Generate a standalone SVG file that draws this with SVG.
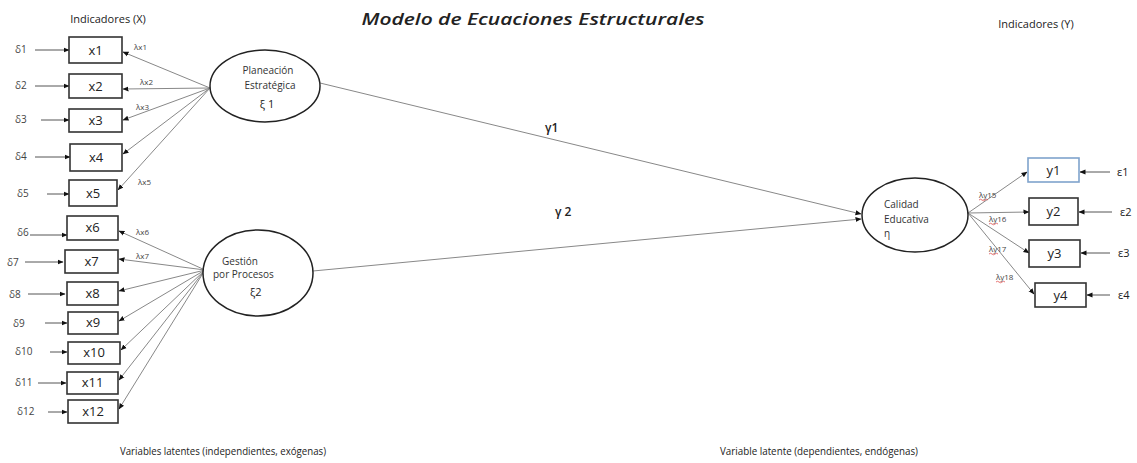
<svg xmlns="http://www.w3.org/2000/svg" width="1137" height="463" viewBox="0 0 1137 463">
<defs>
<marker id="ah" markerWidth="6" markerHeight="6" refX="5.5" refY="3" orient="auto" markerUnits="userSpaceOnUse">
<path d="M0,0.5 L6,3 L0,5.5 Z" fill="#111"/>
</marker>
<style>
.box{fill:#fff;stroke:#333;stroke-width:1.6}
.ell{fill:#fff;stroke:#222;stroke-width:1.5}
.t{font-family:"Open Sans","DejaVu Sans",sans-serif;fill:#222}
.bl{font-size:13px;text-anchor:middle}
.el{font-size:10px;fill:#333}
.lam{font-size:8px;fill:#444}
.del{font-size:10px;fill:#444}
.ln{stroke:#888;stroke-width:1;fill:none}
.ea{stroke:#555;stroke-width:1;fill:none}
.sq{stroke:#e05050;stroke-width:0.8;fill:none}
</style>
</defs>
<rect width="1137" height="463" fill="#fff"/>
<text class="t" x="533" y="25" font-size="15.5" font-style="italic" font-weight="600" text-anchor="middle" fill="#333" textLength="343" lengthAdjust="spacingAndGlyphs">Modelo de Ecuaciones Estructurales</text>
<text class="t" x="108" y="23" font-size="11" text-anchor="middle" fill="#333">Indicadores (X)</text>
<text class="t" x="1036" y="28" font-size="11" text-anchor="middle" fill="#333">Indicadores (Y)</text>
<text class="t" x="223" y="455" font-size="11" text-anchor="middle" fill="#333" textLength="206" lengthAdjust="spacingAndGlyphs">Variables latentes (independientes, exógenas)</text>
<text class="t" x="819" y="455" font-size="11" text-anchor="middle" fill="#333" textLength="198" lengthAdjust="spacingAndGlyphs">Variable latente (dependientes, endógenas)</text>

<g id="connectors">
<line class="ln" x1="210" y1="88" x2="123" y2="52" marker-end="url(#ah)"/>
<line class="ln" x1="210" y1="88" x2="123" y2="89" marker-end="url(#ah)"/>
<line class="ln" x1="210" y1="88" x2="123" y2="120" marker-end="url(#ah)"/>
<line class="ln" x1="210" y1="88" x2="123" y2="154" marker-end="url(#ah)"/>
<line class="ln" x1="210" y1="88" x2="118" y2="190" marker-end="url(#ah)"/>
<line class="ln" x1="205" y1="270" x2="119" y2="231" marker-end="url(#ah)"/>
<line class="ln" x1="205" y1="270" x2="119" y2="259" marker-end="url(#ah)"/>
<line class="ln" x1="205" y1="270" x2="119" y2="291" marker-end="url(#ah)"/>
<line class="ln" x1="205" y1="270" x2="119" y2="321" marker-end="url(#ah)"/>
<line class="ln" x1="205" y1="270" x2="121" y2="350" marker-end="url(#ah)"/>
<line class="ln" x1="205" y1="270" x2="119" y2="380" marker-end="url(#ah)"/>
<line class="ln" x1="205" y1="270" x2="119" y2="409" marker-end="url(#ah)"/>
<line class="ln" x1="320" y1="83" x2="861" y2="214" marker-end="url(#ah)"/>
<line class="ln" x1="313" y1="271" x2="861" y2="219" marker-end="url(#ah)"/>
<line class="ln" x1="968" y1="213" x2="1027" y2="172" marker-end="url(#ah)"/>
<line class="ln" x1="968" y1="213" x2="1029" y2="212" marker-end="url(#ah)"/>
<line class="ln" x1="968" y1="213" x2="1029" y2="253" marker-end="url(#ah)"/>
<line class="ln" x1="968" y1="213" x2="1034" y2="294" marker-end="url(#ah)"/>
<line class="ea" x1="35" y1="50" x2="69" y2="50" marker-end="url(#ah)"/>
<line class="ea" x1="35" y1="86" x2="69" y2="86" marker-end="url(#ah)"/>
<line class="ea" x1="41" y1="120" x2="69" y2="120" marker-end="url(#ah)"/>
<line class="ea" x1="35" y1="157" x2="70" y2="157" marker-end="url(#ah)"/>
<line class="ea" x1="47" y1="194" x2="69" y2="194" marker-end="url(#ah)"/>
<line class="ea" x1="30" y1="235" x2="67" y2="235" marker-end="url(#ah)"/>
<line class="ea" x1="25" y1="262" x2="63" y2="262" marker-end="url(#ah)"/>
<line class="ea" x1="28" y1="294" x2="65" y2="294" marker-end="url(#ah)"/>
<line class="ea" x1="45" y1="323" x2="67" y2="323" marker-end="url(#ah)"/>
<line class="ea" x1="50" y1="352" x2="67" y2="352" marker-end="url(#ah)"/>
<line class="ea" x1="38" y1="383" x2="66" y2="383" marker-end="url(#ah)"/>
<line class="ea" x1="48" y1="412" x2="67" y2="412" marker-end="url(#ah)"/>
<line class="ea" x1="1110" y1="172" x2="1080" y2="172" marker-end="url(#ah)"/>
<line class="ea" x1="1112" y1="212" x2="1079" y2="212" marker-end="url(#ah)"/>
<line class="ea" x1="1110" y1="253" x2="1081" y2="253" marker-end="url(#ah)"/>
<line class="ea" x1="1110" y1="295" x2="1087" y2="295" marker-end="url(#ah)"/>
</g>

<g id="labels">
<text class="t lam" x="134" y="50">λx1</text>
<text class="t lam" x="140" y="85">λx2</text>
<text class="t lam" x="136" y="110">λx3</text>
<text class="t lam" x="138" y="185">λx5</text>
<text class="t lam" x="136" y="235">λx6</text>
<text class="t lam" x="136" y="259">λx7</text>
<text class="t" x="545" y="132" font-size="12" font-weight="600" fill="#333">γ1</text>
<text class="t" x="555" y="216" font-size="12" font-weight="600" fill="#333">γ 2</text>
<text class="t lam" x="979" y="198">λy15</text>
<path class="sq" d="M979,200 q1.5,-1.5 3,0 t3,0 t3,0"/>
<text class="t lam" x="989" y="222">λy16</text>
<path class="sq" d="M989,224 q1.5,-1.5 3,0 t3,0 t3,0"/>
<text class="t lam" x="989" y="252">λy17</text>
<path class="sq" d="M989,254 q1.5,-1.5 3,0 t3,0 t3,0"/>
<text class="t lam" x="996" y="280">λy18</text>
<path class="sq" d="M996,282 q1.5,-1.5 3,0 t3,0 t3,0"/>
</g>

<g id="deltas">
<text class="t del" x="15" y="53">δ1</text>
<text class="t del" x="15" y="89">δ2</text>
<text class="t del" x="15" y="123">δ3</text>
<text class="t del" x="15" y="160">δ4</text>
<text class="t del" x="17" y="197">δ5</text>
<text class="t del" x="17" y="236">δ6</text>
<text class="t del" x="7" y="266">δ7</text>
<text class="t del" x="9" y="298">δ8</text>
<text class="t del" x="13" y="327">δ9</text>
<text class="t del" x="15" y="355">δ10</text>
<text class="t del" x="15" y="386">δ11</text>
<text class="t del" x="17" y="415">δ12</text>
<text class="t" x="1117" y="176" font-size="11" fill="#444">ε1</text>
<text class="t" x="1120" y="216" font-size="11" fill="#444">ε2</text>
<text class="t" x="1118" y="257" font-size="11" fill="#444">ε3</text>
<text class="t" x="1118" y="299" font-size="11" fill="#444">ε4</text>
</g>

<g id="x1"><rect class="box" x="69" y="37" width="53" height="26"/><text class="t bl" x="95.5" y="55">x1</text></g>
<g id="x2"><rect class="box" x="69" y="74" width="53" height="24"/><text class="t bl" x="95.5" y="91">x2</text></g>
<g id="x3"><rect class="box" x="69" y="109" width="53" height="23"/><text class="t bl" x="95.5" y="125">x3</text></g>
<g id="x4"><rect class="box" x="70" y="144" width="52" height="27"/><text class="t bl" x="96" y="162">x4</text></g>
<g id="x5"><rect class="box" x="69" y="180" width="48" height="26"/><text class="t bl" x="93" y="198">x5</text></g>
<g id="x6"><rect class="box" x="67" y="216" width="51" height="24"/><text class="t bl" x="92.5" y="232">x6</text></g>
<g id="x7"><rect class="box" x="65" y="250" width="53" height="23"/><text class="t bl" x="91.5" y="266">x7</text></g>
<g id="x8"><rect class="box" x="67" y="282" width="51" height="23"/><text class="t bl" x="92.5" y="298">x8</text></g>
<g id="x9"><rect class="box" x="68" y="312" width="50" height="22"/><text class="t bl" x="93" y="327">x9</text></g>
<g id="x10"><rect class="box" x="68" y="342" width="52" height="22"/><text class="t bl" x="94" y="357">x10</text></g>
<g id="x11"><rect class="box" x="67" y="372" width="51" height="22"/><text class="t bl" x="92.5" y="387">x11</text></g>
<g id="x12"><rect class="box" x="68" y="400" width="50" height="23"/><text class="t bl" x="93" y="416">x12</text></g>

<g id="planeacion"><ellipse class="ell" cx="265" cy="86" rx="55" ry="36"/>
<text class="t el" x="268" y="74" text-anchor="middle">Planeación</text>
<text class="t el" x="270" y="89" text-anchor="middle">Estratégica</text>
<text class="t" x="267" y="108" font-size="11" text-anchor="middle">ξ 1</text></g>

<g id="gestion"><ellipse class="ell" cx="258" cy="273" rx="55" ry="43"/>
<text class="t el" x="222" y="265">Gestión</text>
<text class="t el" x="213" y="278">por Procesos</text>
<text class="t" x="250" y="296" font-size="11">ξ2</text></g>

<g id="calidad"><ellipse class="ell" cx="915" cy="215" rx="53" ry="37"/>
<text class="t el" x="884" y="208">Calidad</text>
<text class="t el" x="884" y="223">Educativa</text>
<text class="t el" x="884" y="237">η</text></g>

<g id="y1"><rect x="1028" y="158" width="51" height="24" fill="#fff" stroke="#7fa3cc" stroke-width="1.6"/><text class="t bl" x="1053.5" y="175">y1</text></g>
<g id="y2"><rect class="box" x="1029" y="198" width="49" height="27"/><text class="t bl" x="1053.5" y="216">y2</text></g>
<g id="y3"><rect class="box" x="1029" y="240" width="51" height="27"/><text class="t bl" x="1054.5" y="258">y3</text></g>
<g id="y4"><rect class="box" x="1035" y="283" width="51" height="24"/><text class="t bl" x="1060.5" y="300">y4</text></g>
</svg>
